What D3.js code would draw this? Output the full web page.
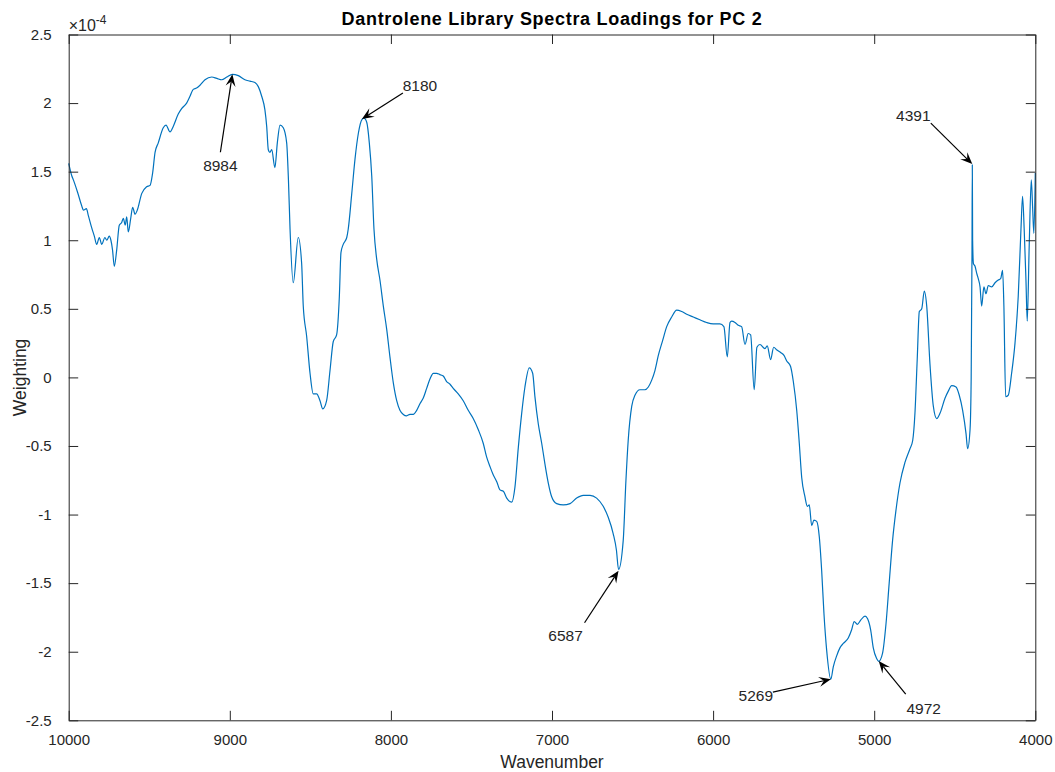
<!DOCTYPE html>
<html>
<head>
<meta charset="utf-8">
<script src="https://cdn.jsdelivr.net/npm/d3@7"></script>
<style>
  html, body { margin: 0; padding: 0; background: #fff; }
  svg { display: block; }
  text { font-family: "Liberation Sans", Arial, Helvetica, sans-serif; }
</style>
</head>
<body>
<svg id="chart" width="1055" height="772"></svg>
<script>
// ---- data (weighting in units of 1e-4) ----
const wavenumber = [10000,9981,9971,9945,9919,9909,9890,9878,9857,9841,9826,9810,9795,9775,9764,9748,9738,9728,9717,9702,9686,9671,9661,9649,9640,9630,9615,9603,9588,9574,9547,9516,9495,9479,9464,9444,9413,9396,9371,9351,9320,9299,9268,9247,9227,9206,9185,9154,9112,9081,9050,9019,8984,8947,8906,8875,8844,8823,8802,8782,8771,8761,8751,8740,8720,8705,8688,8668,8647,8636,8626,8606,8575,8554,8544,8523,8502,8482,8461,8440,8423,8399,8378,8358,8337,8320,8310,8296,8274,8265,8243,8223,8202,8180,8167,8150,8134,8119,8105,8088,8068,8047,8026,8006,7985,7964,7944,7923,7902,7882,7861,7840,7819,7799,7778,7757,7737,7716,7696,7675,7654,7633,7613,7582,7551,7520,7489,7458,7427,7406,7385,7365,7343,7323,7302,7281,7250,7230,7209,7188,7168,7141,7120,7106,7085,7064,7044,7023,7002,6971,6930,6888,6847,6806,6764,6723,6682,6651,6620,6600,6587,6558,6541,6527,6505,6485,6454,6423,6402,6381,6361,6340,6313,6288,6257,6226,6195,6164,6123,6082,6040,5999,5958,5933,5912,5895,5885,5864,5844,5823,5802,5782,5767,5745,5728,5709,5678,5664,5643,5624,5604,5579,5560,5543,5519,5502,5481,5465,5450,5430,5415,5403,5388,5374,5357,5341,5326,5312,5295,5269,5254,5233,5212,5192,5161,5140,5124,5105,5084,5057,5041,5022,5006,4985,4972,4948,4927,4907,4886,4865,4840,4809,4778,4761,4747,4733,4720,4705,4689,4674,4654,4633,4612,4591,4560,4540,4519,4492,4472,4451,4430,4420,4405,4398,4393,4391,4389,4384,4374,4364,4354,4343,4333,4319,4306,4292,4271,4250,4230,4215,4203,4195,4184,4168,4147,4126,4106,4089,4079,4069,4058,4050,4038,4025,4017,4009,4000];
const weighting = [1.56,1.47,1.44,1.35,1.25,1.22,1.23,1.18,1.09,1.03,0.97,1.02,0.97,1.02,1.00,1.03,1.00,0.93,0.81,0.93,1.11,1.13,1.16,1.11,1.17,1.06,1.16,1.24,1.19,1.22,1.34,1.39,1.40,1.49,1.64,1.71,1.82,1.84,1.79,1.83,1.92,1.96,2.00,2.05,2.10,2.11,2.13,2.17,2.19,2.18,2.17,2.19,2.21,2.20,2.17,2.16,2.15,2.12,2.05,1.95,1.83,1.66,1.64,1.66,1.53,1.71,1.84,1.82,1.71,1.44,1.08,0.69,1.02,0.83,0.52,0.30,0.03,-0.12,-0.12,-0.17,-0.23,-0.17,0.05,0.26,0.31,0.59,0.91,0.97,1.02,1.08,1.34,1.59,1.78,1.88,1.89,1.86,1.71,1.47,1.08,0.86,0.71,0.52,0.35,0.15,-0.04,-0.17,-0.24,-0.27,-0.28,-0.27,-0.27,-0.24,-0.19,-0.15,-0.08,-0.01,0.03,0.03,0.02,0.01,-0.03,-0.05,-0.08,-0.12,-0.17,-0.24,-0.30,-0.38,-0.48,-0.58,-0.65,-0.71,-0.76,-0.82,-0.83,-0.88,-0.91,-0.80,-0.51,-0.26,-0.07,0.07,0.03,-0.14,-0.34,-0.48,-0.63,-0.77,-0.87,-0.92,-0.93,-0.92,-0.88,-0.86,-0.86,-0.88,-0.94,-1.02,-1.14,-1.26,-1.40,-1.19,-0.75,-0.46,-0.21,-0.13,-0.09,-0.09,-0.07,-0.02,0.05,0.16,0.27,0.37,0.44,0.49,0.48,0.46,0.44,0.42,0.40,0.39,0.39,0.37,0.15,0.40,0.41,0.40,0.38,0.37,0.24,0.32,0.31,-0.09,0.22,0.24,0.21,0.23,0.13,0.22,0.20,0.18,0.16,0.12,0.08,-0.03,-0.24,-0.48,-0.73,-0.87,-0.94,-0.93,-1.08,-1.04,-1.05,-1.16,-1.41,-1.72,-1.99,-2.20,-2.11,-2.03,-1.97,-1.94,-1.90,-1.84,-1.78,-1.80,-1.77,-1.74,-1.76,-1.84,-1.97,-2.05,-2.07,-2.01,-1.80,-1.50,-1.19,-0.97,-0.77,-0.62,-0.52,-0.46,-0.26,0.13,0.48,0.50,0.63,0.52,0.10,-0.21,-0.30,-0.26,-0.15,-0.10,-0.06,-0.07,-0.13,-0.24,-0.41,-0.52,-0.38,0.00,0.90,1.55,1.00,0.83,0.81,0.76,0.72,0.66,0.52,0.66,0.61,0.67,0.66,0.69,0.71,0.72,0.78,0.52,-0.14,-0.13,0.03,0.25,0.59,1.08,1.32,1.08,0.71,0.41,0.95,1.44,1.25,1.05,1.49];

const xTicks = [10000, 9000, 8000, 7000, 6000, 5000, 4000];
const yTicks = [-2.5, -2, -1.5, -1, -0.5, 0, 0.5, 1, 1.5, 2, 2.5];

// annotated peaks
const peakWavenumbers = [8984, 8180, 4391, 6587, 5269, 4972];
const peakLabels = ["8984", "8180", "4391", "6587", "5269", "4972"];
const peakWeights = [2.21, 1.884, 1.555, -1.41, -2.20, -2.068];

const titleText = "Dantrolene Library Spectra Loadings for PC 2";
const xLabel = "Wavenumber";
const yLabel = "Weighting";

// ---- layout ----
const L = 68.7, R = 1035.3, T = 34.5, B = 720.3;
const ink = "#262626";
const svg = d3.select("#chart");

const x = d3.scaleLinear().domain([10000, 4000]).range([L, R]);
const y = d3.scaleLinear().domain([-2.5, 2.5]).range([B, T]);

svg.append("rect").attr("x", L).attr("y", T).attr("width", R - L).attr("height", B - T)
  .attr("fill", "#fff").attr("stroke", "none");

const tickLen = 9.5;

const xAxisB = d3.axisBottom(x).tickValues(xTicks).tickSizeInner(-tickLen).tickSizeOuter(0).tickPadding(14).tickFormat(d => String(d));
const xAxisT = d3.axisTop(x).tickValues(xTicks).tickSizeInner(-tickLen).tickSizeOuter(0).tickFormat("");
const yAxisL = d3.axisLeft(y).tickValues(yTicks).tickSizeInner(-tickLen).tickSizeOuter(0).tickPadding(17).tickFormat(d => String(d));
const yAxisR = d3.axisRight(y).tickValues(yTicks).tickSizeInner(-tickLen).tickSizeOuter(0).tickFormat("");

function style(g) {
  g.selectAll("path.domain").attr("stroke", ink).attr("stroke-width", 1);
  g.selectAll(".tick line").attr("stroke", ink).attr("stroke-width", 1);
  g.selectAll(".tick text").attr("fill", ink).style("font-size", "15px")
    .style("font-family", '"Liberation Sans", Arial, Helvetica, sans-serif');
}

const line = d3.line().x((d, i) => x(wavenumber[i])).y(d => y(d)).curve(d3.curveMonotoneX);
svg.append("path").datum(weighting).attr("d", line)
  .attr("fill", "none").attr("stroke", "#0072BD").attr("stroke-width", 1.2)
  .attr("stroke-linejoin", "round");

svg.append("g").attr("transform", `translate(0,${B})`).call(xAxisB).call(style);
svg.append("g").attr("transform", `translate(0,${T})`).call(xAxisT).call(style);
svg.append("g").attr("transform", `translate(${L},0)`).call(yAxisL).call(style);
svg.append("g").attr("transform", `translate(${R},0)`).call(yAxisR).call(style);

// exponent label
const ex = svg.append("text").attr("x", L).attr("y", 31).attr("fill", ink).style("font-size", "16px");
ex.append("tspan").text("\u00d710");
ex.append("tspan").attr("dy", -7).style("font-size", "12px").text("-4");

// title and axis labels
svg.append("text").attr("x", (L + R) / 2).attr("y", 25).attr("text-anchor", "middle")
  .attr("fill", "#000").style("font-size", "18px").style("font-weight", "bold")
  .style("letter-spacing", "0.7px").text(titleText);
svg.append("text").attr("x", (L + R) / 2).attr("y", 768).attr("text-anchor", "middle")
  .attr("fill", ink).style("font-size", "17.5px").text(xLabel);
svg.append("text").attr("transform", `translate(26,${(T + B) / 2}) rotate(-90)`).attr("text-anchor", "middle")
  .attr("fill", ink).style("font-size", "17.5px").text(yLabel);

// annotation arrows: tail offsets (px) relative to tip and label offsets
const tailOff = [[-12, 78], [41, -26], [-41.5, -41], [-34, 52], [-58, 13], [27, 33]];
const labelOff = [[-12, 91], [58, -33], [-59, -49], [-53, 65], [-75, 16], [45, 47]];

peakWavenumbers.forEach((wn, i) => {
  const tx = x(wn), ty = y(peakWeights[i]);
  const sx = tx + tailOff[i][0], sy = ty + tailOff[i][1];
  const ang = Math.atan2(ty - sy, tx - sx);
  const hl = 12, hw = 5;
  const ca = Math.cos(ang), sa = Math.sin(ang);
  const bx = tx - hl * ca, by = ty - hl * sa;
  const nx = tx - hl * 0.6 * ca, ny = ty - hl * 0.6 * sa;
  svg.append("line").attr("x1", sx).attr("y1", sy).attr("x2", nx).attr("y2", ny)
    .attr("stroke", "#000").attr("stroke-width", 1.2);
  const pts = [[tx, ty], [bx - hw * sa, by + hw * ca], [nx, ny], [bx + hw * sa, by - hw * ca]];
  svg.append("path").attr("d", "M" + pts.map(p => p.join(",")).join("L") + "Z").attr("fill", "#000");
  svg.append("text").attr("x", tx + labelOff[i][0]).attr("y", ty + labelOff[i][1])
    .attr("text-anchor", "middle").attr("dominant-baseline", "central")
    .attr("fill", ink).style("font-size", "15.5px").text(peakLabels[i]);
});
</script>
</body>
</html>
